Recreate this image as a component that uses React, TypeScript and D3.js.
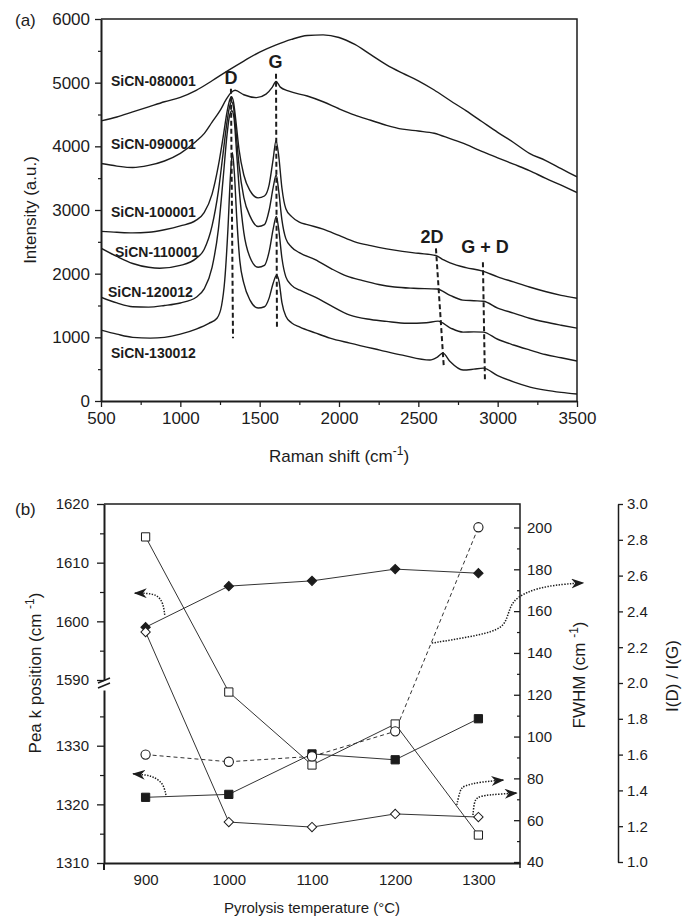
import React, { useEffect, useRef } from "react";
import * as d3 from "d3";

type Pt = [number, number];

// (a) Raman spectra: [Raman shift (cm-1), intensity (a.u.)]
const sicn080001: Pt[] = [
  [500, 4400], [600, 4460], [700, 4540], [800, 4620], [900, 4700], [1000, 4770], [1100, 4880],
  [1200, 5030], [1300, 5190], [1400, 5340], [1500, 5480], [1600, 5590], [1700, 5680], [1800, 5740],
  [1900, 5750], [2000, 5710], [2100, 5600], [2200, 5440], [2300, 5280], [2400, 5150], [2500, 5030],
  [2600, 4885], [2700, 4720], [2800, 4560], [2900, 4390], [3000, 4220], [3100, 4060], [3200, 3890],
  [3300, 3780], [3400, 3650], [3500, 3520],
];
const sicn090001: Pt[] = [
  [500, 3730], [600, 3690], [700, 3667], [800, 3700], [900, 3770], [1000, 3890], [1100, 4080],
  [1150, 4200], [1200, 4380], [1250, 4560], [1290, 4740], [1319, 4840], [1345, 4880], [1400, 4810],
  [1480, 4765], [1540, 4820], [1580, 4930], [1603, 5020], [1630, 4930], [1680, 4870], [1800, 4790],
  [1900, 4700], [2000, 4590], [2100, 4490], [2200, 4410], [2300, 4330], [2400, 4270], [2500, 4240],
  [2600, 4205], [2700, 4120], [2800, 4030], [2900, 3920], [3000, 3820], [3100, 3720], [3200, 3620],
  [3300, 3500], [3400, 3390], [3500, 3275],
];
const sicn100001: Pt[] = [
  [500, 2665], [600, 2650], [700, 2640], [800, 2650], [900, 2690], [1000, 2750], [1100, 2840],
  [1150, 2960], [1200, 3250], [1240, 3700], [1270, 4150], [1295, 4550], [1310, 4720], [1322, 4780],
  [1335, 4700], [1350, 4400], [1370, 3950], [1400, 3550], [1440, 3300], [1490, 3190], [1530, 3220],
  [1560, 3400], [1585, 3800], [1603, 4090], [1620, 3850], [1640, 3350], [1665, 3020], [1700, 2900],
  [1750, 2810], [1800, 2770], [1900, 2700], [2000, 2600], [2100, 2500], [2200, 2440], [2300, 2390],
  [2400, 2350], [2500, 2320], [2610, 2285], [2660, 2215], [2700, 2170], [2800, 2095], [2900, 2045],
  [3000, 1950], [3100, 1870], [3200, 1790], [3300, 1720], [3400, 1660], [3500, 1614],
];
const sicn110001: Pt[] = [
  [500, 2400], [600, 2270], [700, 2160], [800, 2100], [870, 2085], [1000, 2130], [1100, 2240],
  [1150, 2380], [1200, 2750], [1240, 3300], [1270, 3900], [1295, 4400], [1310, 4620], [1323, 4700],
  [1336, 4600], [1350, 4250], [1370, 3700], [1400, 3200], [1440, 2900], [1490, 2740], [1530, 2770],
  [1560, 3000], [1585, 3350], [1604, 3550], [1620, 3300], [1640, 2850], [1665, 2550], [1700, 2420],
  [1750, 2330], [1850, 2220], [1950, 2080], [2050, 1960], [2150, 1890], [2250, 1830], [2350, 1790],
  [2470, 1770], [2617, 1760], [2700, 1660], [2780, 1585], [2850, 1575], [2910, 1567], [3000, 1460],
  [3100, 1380], [3200, 1300], [3300, 1240], [3400, 1190], [3500, 1144],
];
const sicn120012: Pt[] = [
  [500, 1630], [600, 1540], [700, 1480], [800, 1475], [900, 1500], [1000, 1540], [1100, 1630],
  [1150, 1760], [1200, 2100], [1240, 2700], [1270, 3500], [1295, 4200], [1310, 4480], [1325, 4560],
  [1338, 4450], [1352, 4000], [1372, 3300], [1400, 2650], [1440, 2250], [1490, 2100], [1530, 2130],
  [1560, 2350], [1585, 2700], [1605, 2900], [1620, 2700], [1640, 2250], [1665, 1950], [1700, 1820],
  [1754, 1740], [1850, 1630], [1943, 1505], [2069, 1348], [2200, 1280], [2300, 1250], [2430, 1222],
  [2550, 1230], [2624, 1254], [2700, 1150], [2782, 1082], [2850, 1085], [2908, 1082], [3000, 970],
  [3100, 880], [3204, 800], [3300, 730], [3400, 680], [3500, 627],
];
const sicn130012: Pt[] = [
  [500, 1113], [600, 1050], [700, 1000], [810, 987], [900, 1000], [1000, 1050], [1100, 1130],
  [1180, 1220], [1231, 1300], [1260, 1500], [1280, 1900], [1300, 2700], [1315, 3500], [1328, 3900],
  [1340, 3600], [1355, 2900], [1375, 2200], [1400, 1850], [1440, 1580], [1490, 1460], [1530, 1480],
  [1560, 1620], [1585, 1850], [1607, 1975], [1622, 1880], [1640, 1550], [1665, 1330], [1700, 1230],
  [1754, 1160], [1850, 1070], [1943, 987], [2069, 909], [2258, 800], [2400, 720], [2573, 643],
  [2620, 690], [2655, 752], [2700, 620], [2782, 486], [2850, 500], [2908, 517], [3000, 400],
  [3100, 300], [3204, 219], [3300, 170], [3400, 135], [3500, 110],
];
const spectra = [sicn080001, sicn090001, sicn100001, sicn110001, sicn120012, sicn130012];
const sampleNames = ["SiCN-080001", "SiCN-090001", "SiCN-100001", "SiCN-110001", "SiCN-120012", "SiCN-130012"];

const shiftTicks = [500, 1000, 1500, 2000, 2500, 3000, 3500];
const intensityTicks = [0, 1000, 2000, 3000, 4000, 5000, 6000];

// dashed band guides, [shift, intensity] ends
const bandNames = ["D", "G", "2D", "G + D"];
const bandLines: [Pt, Pt][] = [
  [[1319, 4906], [1332, 987]],
  [[1603, 5141], [1609, 1160]],
  [[2611, 2398], [2661, 517]],
  [[2907, 2179], [2920, 298]],
];

// (b) band parameters vs pyrolysis temperature
const temperatures = [900, 1000, 1100, 1200, 1300];
const gPosition = [1599.0, 1606.0, 1606.9, 1608.9, 1608.2]; // filled diamonds
const dPosition = [1321.2, 1321.7, 1328.6, 1327.6, 1334.6]; // filled squares
const dFwhm = [195.5, 121.3, 86.4, 106.0, 52.9]; // open squares
const gFwhm = [150.0, 59.1, 56.7, 63.0, 61.5]; // open diamonds
const intensityRatio = [1.6, 1.56, 1.59, 1.73, 2.87]; // open circles

const tempTicks = [900, 1000, 1100, 1200, 1300];
const posTicksHigh = [1590, 1600, 1610, 1620];
const posTicksLow = [1310, 1320, 1330];
const fwhmTicks = [40, 60, 80, 100, 120, 140, 160, 180, 200];
const ratioTicks = [1.0, 1.2, 1.4, 1.6, 1.8, 2.0, 2.2, 2.4, 2.6, 2.8, 3.0];

const FONT = "Arial, 'Liberation Sans', Helvetica, sans-serif";
const INK = "#1c1c1c";
const plain = d3.format("d");

export default function App() {
  const ref = useRef<SVGSVGElement>(null);

  useEffect(() => {
    const svg = d3.select(ref.current);
    svg.selectAll("*").remove();
    svg.attr("font-family", FONT);

    const defs = svg.append("defs");
    defs.append("marker")
      .attr("id", "head")
      .attr("viewBox", "0 0 13 10")
      .attr("refX", 12).attr("refY", 5)
      .attr("markerWidth", 13).attr("markerHeight", 10)
      .attr("markerUnits", "userSpaceOnUse")
      .attr("orient", "auto")
      .append("path").attr("d", "M0,0 L13,5 L0,10 L4,5 Z").attr("fill", INK);

    const style = (g: any, size: number) => {
      g.attr("font-family", FONT).attr("font-size", size);
      g.selectAll("text").attr("fill", INK);
      g.selectAll(".tick line").attr("stroke", INK).attr("stroke-width", 1.3);
      g.select(".domain").attr("stroke", INK).attr("stroke-width", 2);
    };
    const minor = (g: any) => {
      g.select(".domain").remove();
      g.selectAll(".tick line").attr("stroke", INK).attr("stroke-width", 1.2);
    };

    /* ---------------- (a) spectra ---------------- */
    const x = d3.scaleLinear().domain([500, 3500]).range([101, 577]);
    const y = d3.scaleLinear().domain([0, 6000]).range([401, 19]);
    const a = svg.append("g");

    defs.append("clipPath").attr("id", "clipA").append("rect")
      .attr("x", x(500)).attr("y", y(6000))
      .attr("width", x(3500) - x(500)).attr("height", y(0) - y(6000));

    const spec = d3.line<Pt>().x(d => x(d[0])).y(d => y(d[1])).curve(d3.curveMonotoneX);
    a.append("g").attr("clip-path", "url(#clipA)")
      .selectAll("path").data(spectra).join("path")
      .attr("fill", "none").attr("stroke", INK).attr("stroke-width", 1.4)
      .attr("stroke-linejoin", "round")
      .attr("d", spec);

    a.selectAll(".band").data(bandLines).join("line")
      .attr("x1", d => x(d[0][0])).attr("y1", d => y(d[0][1]))
      .attr("x2", d => x(d[1][0])).attr("y2", d => y(d[1][1]))
      .attr("stroke", INK).attr("stroke-width", 2).attr("stroke-dasharray", "5,3");

    // band labels: [shift, intensity] of the text baseline centre
    const bandAnchors: Pt[] = [[1319, 4983], [1600, 5234], [2586, 2476], [2920, 2319]];
    a.selectAll(".bandLabel").data(bandNames).join("text")
      .attr("x", (d, i) => x(bandAnchors[i][0])).attr("y", (d, i) => y(bandAnchors[i][1]))
      .attr("text-anchor", "middle").attr("font-weight", "bold").attr("font-size", 18)
      .attr("fill", INK).text(d => d);

    const nameAnchors: Pt[] = [[563, 4952], [563, 3964], [563, 2883], [588, 2256], [544, 1630], [563, 674]];
    a.selectAll(".name").data(sampleNames).join("text")
      .attr("x", (d, i) => x(nameAnchors[i][0])).attr("y", (d, i) => y(nameAnchors[i][1]))
      .attr("font-weight", "bold").attr("font-size", 14).attr("fill", INK)
      .text(d => d);

    // frame
    a.append("path")
      .attr("d", `M${x(500)},${y(6000)}H${x(3500)}V${y(0)}`)
      .attr("fill", "none").attr("stroke", INK).attr("stroke-width", 1.5);

    a.append("g").attr("transform", `translate(${x(500)},0)`)
      .call(d3.axisLeft(y).tickValues(intensityTicks).tickFormat(plain).tickSize(6).tickPadding(5).tickSizeOuter(0))
      .call(g => style(g, 17));
    a.append("g").attr("transform", `translate(${x(500)},0)`)
      .call(d3.axisLeft(y).tickValues(d3.range(500, 6000, 1000)).tickSize(3).tickFormat(() => ""))
      .call(minor);
    a.append("g").attr("transform", `translate(0,${y(0)})`)
      .call(d3.axisBottom(x).tickValues(shiftTicks).tickFormat(plain).tickSize(6).tickPadding(5).tickSizeOuter(0))
      .call(g => style(g, 17));
    a.append("g").attr("transform", `translate(0,${y(0)})`)
      .call(d3.axisBottom(x).tickValues(d3.range(750, 3500, 500)).tickSize(4).tickFormat(() => ""))
      .call(minor);

    a.append("text").attr("x", 15).attr("y", 26).attr("font-size", 17).attr("fill", INK).text("(a)");
    a.append("text")
      .attr("transform", `translate(36,${(y(0) + y(6000)) / 2}) rotate(-90)`)
      .attr("text-anchor", "middle").attr("font-size", 17).attr("fill", INK)
      .text("Intensity (a.u.)");
    const xt = a.append("text").attr("x", (x(500) + x(3500)) / 2).attr("y", 462)
      .attr("text-anchor", "middle").attr("font-size", 17).attr("fill", INK);
    xt.append("tspan").text("Raman shift (cm");
    xt.append("tspan").attr("dy", -7).attr("font-size", 12).text("-1");
    xt.append("tspan").attr("dy", 7).text(")");

    /* ---------------- (b) vs temperature ---------------- */
    const tx = d3.scaleLinear().domain([850, 1350]).range([104, 520]);
    const posHi = d3.scaleLinear().domain([1590, 1620]).range([680, 504]);
    const posLo = d3.scaleLinear().domain([1310, 1339.5]).range([863, 690]);
    const fy = d3.scaleLinear().domain([40, 200]).range([862, 527.5]);
    const ry = d3.scaleLinear().domain([1, 3]).range([862, 504]);
    const b = svg.append("g");

    const series = [
      { v: gPosition, s: posHi, mark: "diamond", fill: INK, dash: null },
      { v: dPosition, s: posLo, mark: "square", fill: INK, dash: null },
      { v: dFwhm, s: fy, mark: "square", fill: "#fff", dash: null },
      { v: gFwhm, s: fy, mark: "diamond", fill: "#fff", dash: null },
      { v: intensityRatio, s: ry, mark: "circle", fill: "#fff", dash: "4,3" },
    ];

    series.forEach(sr => {
      const ln = d3.line<number>().x((d, i) => tx(temperatures[i])).y(d => sr.s(d));
      b.append("path").attr("d", ln(sr.v))
        .attr("fill", "none").attr("stroke", "#333").attr("stroke-width", 1)
        .attr("stroke-dasharray", sr.dash);
    });
    series.forEach(sr => {
      const g = b.append("g");
      sr.v.forEach((d, i) => {
        const cx = tx(temperatures[i]);
        const cy = sr.s(d);
        if (sr.mark === "circle") {
          g.append("circle").attr("cx", cx).attr("cy", cy).attr("r", 4.6)
            .attr("fill", sr.fill).attr("stroke", INK).attr("stroke-width", 1.1);
        } else {
          const sym = d3.symbol().type(d3.symbolSquare).size(sr.mark === "square" ? 68 : 44);
          g.append("path").attr("d", sym())
            .attr("transform", `translate(${cx},${cy})${sr.mark === "diamond" ? " rotate(45)" : ""}`)
            .attr("fill", sr.fill).attr("stroke", INK).attr("stroke-width", 1);
        }
      });
    });

    // dotted arrows telling which axis a series belongs to, [temperature, value on that axis]
    const arrows: { pts: Pt[]; s: any }[] = [
      { pts: [[923, 1601.1], [921, 1603.2], [914, 1604.5], [902, 1604.8], [887, 1604.8]], s: posHi },
      { pts: [[924.5, 1321.6], [921, 1323.7], [909, 1324.7], [902, 1325], [885, 1325.2]], s: posLo },
      { pts: [[1244, 2.223], [1290, 2.257], [1326, 2.296], [1334, 2.352], [1338, 2.425], [1346, 2.48], [1370, 2.531], [1402, 2.553], [1426, 2.559]], s: ry },
      { pts: [[1274, 67.3], [1278, 74.4], [1281.5, 76.4], [1302, 78.3], [1330, 79.2]], s: fy },
      { pts: [[1293.5, 62.5], [1294.7, 68.2], [1298, 71.1], [1310, 72.1], [1346, 73]], s: fy },
    ];
    arrows.forEach(ar => {
      const ln = d3.line<Pt>().x(d => tx(d[0])).y(d => ar.s(d[1])).curve(d3.curveBasis);
      b.append("path").attr("d", ln(ar.pts))
        .attr("fill", "none").attr("stroke", INK).attr("stroke-width", 1.5)
        .attr("stroke-dasharray", "1.4,1.4").attr("marker-end", "url(#head)");
    });

    // frame: top and right (FWHM axis line)
    b.append("path")
      .attr("d", `M${tx(850)},504H${tx(1350)}V868`)
      .attr("fill", "none").attr("stroke", INK).attr("stroke-width", 1.5);

    // left broken axis
    b.append("g").attr("transform", `translate(${tx(850)},0)`)
      .call(d3.axisLeft(posHi).tickValues(posTicksHigh).tickFormat(plain).tickSize(7).tickPadding(8).tickSizeOuter(0))
      .call(g => style(g, 15));
    b.append("g").attr("transform", `translate(${tx(850)},0)`)
      .call(d3.axisLeft(posHi).tickValues([1595, 1605, 1615]).tickSize(4).tickFormat(() => ""))
      .call(minor);
    b.append("g").attr("transform", `translate(${tx(850)},0)`)
      .call(d3.axisLeft(posLo).tickValues(posTicksLow).tickFormat(plain).tickSize(7).tickPadding(8).tickSizeOuter(0))
      .call(g => style(g, 15));
    b.append("g").attr("transform", `translate(${tx(850)},0)`)
      .call(d3.axisLeft(posLo).tickValues([1315, 1325, 1335]).tickSize(4).tickFormat(() => ""))
      .call(minor);
    b.append("line").attr("x1", tx(850)).attr("x2", tx(850)).attr("y1", 863).attr("y2", 870)
      .attr("stroke", INK).attr("stroke-width", 2);
    [0, 5].forEach(o => {
      b.append("line").attr("x1", 98).attr("y1", 683 + o).attr("x2", 110).attr("y2", 678 + o)
        .attr("stroke", INK).attr("stroke-width", 1.5);
    });

    // bottom axis
    b.append("g").attr("transform", `translate(0,863)`)
      .call(d3.axisBottom(tx).tickValues(tempTicks).tickFormat(plain).tickSize(0).tickPadding(11).tickSizeOuter(0))
      .call(g => style(g, 15));

    // FWHM axis (ticks inward)
    b.append("g").attr("transform", `translate(${tx(1350)},0)`)
      .call(d3.axisRight(fy).tickValues(fwhmTicks).tickFormat(plain).tickSize(-6).tickPadding(7).tickSizeOuter(0))
      .call(g => { style(g, 15); g.select(".domain").remove(); });
    b.append("g").attr("transform", `translate(${tx(1350)},0)`)
      .call(d3.axisRight(fy).tickValues(d3.range(50, 200, 20)).tickSize(-3).tickFormat(() => ""))
      .call(minor);

    // I(D)/I(G) axis
    b.append("g").attr("transform", `translate(618,0)`)
      .call(d3.axisRight(ry).tickValues(ratioTicks).tickSize(5).tickPadding(4).tickSizeOuter(0).tickFormat(d3.format(".1f")))
      .call(g => { style(g, 15); g.select(".domain").attr("stroke-width", 1.5); });

    b.append("text").attr("x", 15).attr("y", 515).attr("font-size", 17).attr("fill", INK).text("(b)");

    const lt = b.append("text")
      .attr("transform", `translate(41,673) rotate(-90)`)
      .attr("text-anchor", "middle").attr("font-size", 17).attr("fill", INK);
    lt.append("tspan").text("Pea k position (cm ");
    lt.append("tspan").attr("dy", -7).attr("font-size", 12).text("-1");
    lt.append("tspan").attr("dy", 7).text(")");

    const rt = b.append("text")
      .attr("transform", `translate(585,675) rotate(-90)`)
      .attr("text-anchor", "middle").attr("font-size", 17).attr("fill", INK);
    rt.append("tspan").text("FWHM (cm ");
    rt.append("tspan").attr("dy", -7).attr("font-size", 12).text("-1");
    rt.append("tspan").attr("dy", 7).text(")");

    b.append("text")
      .attr("transform", `translate(678,676) rotate(-90)`)
      .attr("text-anchor", "middle").attr("font-size", 17).attr("fill", INK)
      .text("I(D) / I(G)");

    b.append("text").attr("x", (tx(850) + tx(1350)) / 2).attr("y", 913)
      .attr("text-anchor", "middle").attr("font-size", 15).attr("fill", INK)
      .text("Pyrolysis temperature (°C)");
  }, []);

  return (
    <svg
      ref={ref}
      width={688}
      height={918}
      style={{ position: "absolute", left: 0, top: 0, background: "#fff" }}
    />
  );
}
